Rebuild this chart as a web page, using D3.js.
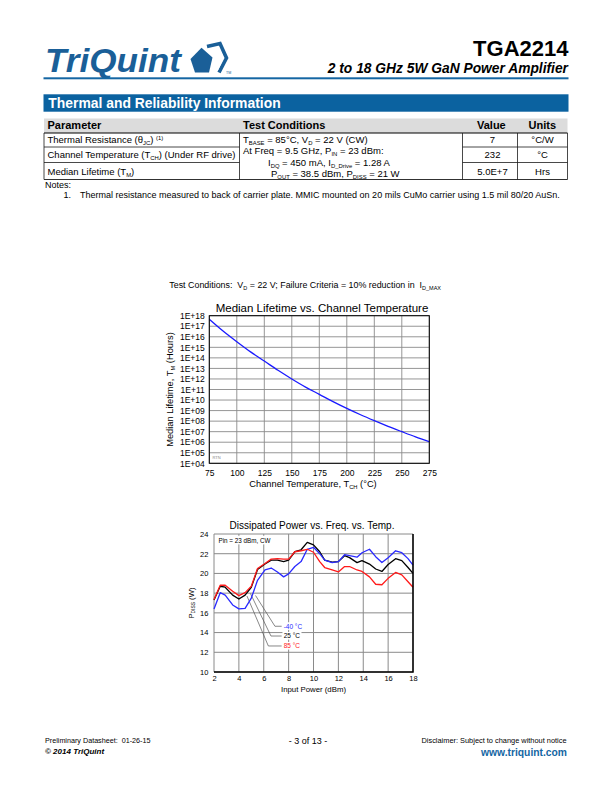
<!DOCTYPE html>
<html><head><meta charset="utf-8">
<script src="https://cdn.jsdelivr.net/npm/d3@7"></script>
<style>
body{margin:0;background:#fff}
svg{display:block}
text{font-family:"Liberation Sans",Arial,Helvetica,sans-serif;white-space:pre}
</style>
</head><body>
<svg id="page" width="612" height="792"></svg>
<script>
// ---------- Table data ----------
const tableHeaders = ["Parameter", "Test Conditions", "Value", "Units"];
const paramNames = [
  ["Thermal Resistance (θ", ["JC","sub"], ") ", ["(1)","sup"]],
  ["Channel Temperature (T", ["CH","sub"], ") (Under RF drive)"],
  ["Median Lifetime (T", ["M","sub"], ")"]
];
const testConditions = [
  ["T", ["BASE","sub"], " = 85°C, V", ["D","sub"], " = 22 V (CW)"],
  ["At Freq = 9.5 GHz, P", ["IN","sub"], " = 23 dBm:"],
  ["I", ["DQ","sub"], " = 450 mA, I", ["D_Drive","sub"], " = 1.28 A"],
  ["P", ["OUT","sub"], " = 38.5 dBm, P", ["DISS","sub"], " = 21 W"]
];
const paramValues = ["7", "232", "5.0E+7"];
const paramUnits = ["°C/W", "°C", "Hrs"];

// ---------- Chart 1: Median lifetime vs channel temperature ----------
const lifetimeTemps = [75, 87.5, 100, 112.5, 125, 137.5, 150, 162.5, 175, 187.5, 200, 212.5, 225, 237.5, 250, 262.5, 275];
const lifetimeHours = [4.6e17, 3.5e16, 3.4e15, 3.7e14, 5.0e13, 6.6e12, 1.0e12, 1.7e11, 3.5e10, 7.1e9, 1.6e9, 4.0e8, 1.1e8, 3.2e7, 1.0e7, 3.2e6, 1.1e6];
const lifetimeXTicks = [75, 100, 125, 150, 175, 200, 225, 250, 275];
const lifetimeYTicks = [1e4, 1e5, 1e6, 1e7, 1e8, 1e9, 1e10, 1e11, 1e12, 1e13, 1e14, 1e15, 1e16, 1e17, 1e18];
const lifetimeYTickLabels = ["1E+04","1E+05","1E+06","1E+07","1E+08","1E+09","1E+10","1E+11","1E+12","1E+13","1E+14","1E+15","1E+16","1E+17","1E+18"];

// ---------- Chart 2: Dissipated power vs input power vs temperature ----------
const inputPower = [2, 2.5, 2.9, 3.5, 4, 4.5, 5, 5.5, 6.1, 6.6, 7.1, 7.6, 8, 8.5, 9, 9.5, 10, 10.5, 10.9, 11.5, 12, 12.5, 12.9, 13.5, 13.9, 14.5, 15, 15.5, 16, 16.6, 17.1, 17.6, 18];
const pdissM40 = [16.4, 18.05, 17.8, 16.8, 16.4, 16.45, 17.5, 19.3, 20.35, 20.55, 20.15, 19.65, 19.95, 20.7, 21.2, 22.45, 22.65, 22.0, 21.35, 21.1, 21.2, 21.9, 21.8, 21.65, 22.1, 22.45, 21.7, 21.1, 21.6, 22.3, 22.1, 21.5, 20.85];
const pdiss25  = [17.3, 18.7, 18.6, 17.8, 17.4, 17.8, 18.6, 20.4, 20.95, 21.35, 21.35, 21.2, 21.35, 22.2, 22.4, 23.15, 22.9, 22.2, 21.35, 21.15, 21.2, 21.8, 21.6, 21.1, 21.3, 20.95, 20.45, 20.2, 20.9, 21.5, 21.3, 20.6, 20.0];
const pdiss85  = [17.35, 18.8, 18.8, 18.2, 17.75, 18.05, 18.7, 20.5, 21.0, 21.45, 21.5, 21.45, 21.45, 22.2, 22.3, 22.45, 22.15, 21.2, 20.6, 20.35, 20.15, 20.7, 20.7, 20.35, 20.2, 19.65, 18.9, 18.85, 19.5, 20.1, 19.85, 19.15, 18.6];
const pdissXTicks = [2, 4, 6, 8, 10, 12, 14, 16, 18];
const pdissYTicks = [10, 12, 14, 16, 18, 20, 22, 24];
const seriesNames = ["-40 °C", "25 °C", "85 °C"];
// leader-line annotation points in data units: curve point, elbow point
const leaderCurve = [[5.34, 17.76], [4.93, 17.96], [4.65, 17.71]];
const leaderElbow = [[6.90, 14.64], [6.58, 13.65], [6.37, 12.64]];
const leaderEndX = 7.44;
const labelX = 7.6;

// ---------- helpers ----------
const svg = d3.select("#page");
svg.append("rect").attr("width", 612).attr("height", 792).attr("fill", "#fff");
const FONT = '"Liberation Sans",Arial,Helvetica,sans-serif';

function rich(g, x, y, parts, size, opts = {}) {
  const t = g.append("text").attr("x", x).attr("y", y)
    .attr("font-size", size)
    .attr("fill", opts.fill || "#000")
    .attr("font-weight", opts.weight || "normal")
    .attr("font-style", opts.style || "normal")
    .attr("text-anchor", opts.anchor || "start");
  if (opts.transform) t.attr("transform", opts.transform);
  let cur = 0;
  parts.forEach(p => {
    let txt, kind = null;
    if (typeof p === "string") txt = p; else { txt = p[0]; kind = p[1]; }
    let target = 0, fs = size;
    if (kind === "sub") { target = size * 0.22; fs = size * 0.62; }
    if (kind === "sup") { target = -size * 0.35; fs = size * 0.62; }
    const ts = t.append("tspan").text(txt).attr("font-size", fs);
    if (target - cur !== 0) ts.attr("dy", target - cur);
    cur = target;
  });
  return t;
}
function whiteBack(g, textSel, padX, padY) {
  const b = textSel.node().getBBox();
  g.append("rect").attr("x", b.x - padX).attr("y", b.y - padY)
    .attr("width", b.width + 2 * padX).attr("height", b.height + 2 * padY).attr("fill", "#fff");
  textSel.raise();
}

// ---------- Header ----------
const blue = "#0b62a0";
const logoBlue = "#1a5f98";
svg.append("text").attr("x", 45).attr("y", 71.7).text("TriQuint")
  .attr("font-size", 33).attr("font-weight", "bold").attr("font-style", "italic")
  .attr("fill", logoBlue).attr("textLength", 136).attr("lengthAdjust", "spacingAndGlyphs");
svg.append("polygon").attr("points", "201.5,47.8 212.5,57.5 209,72.5 195,72.5 190.5,59").attr("fill", logoBlue);
svg.append("path").attr("d", "M207,46.5 L220,43.5 L226.5,58 L219,72.5")
  .attr("fill", "none").attr("stroke", logoBlue).attr("stroke-width", 3.6).attr("stroke-linejoin", "miter");
svg.append("path").attr("d", "M209.5,49.3 L218.6,47.2 L223.3,58 L217.3,70.8")
  .attr("fill", "none").attr("stroke", "#fff").attr("stroke-width", 0.9);
svg.append("text").attr("x", 226).attr("y", 74).text("TM").attr("font-size", 3.6).attr("fill", logoBlue);

svg.append("text").attr("x", 568.5).attr("y", 56).attr("text-anchor", "end")
  .attr("font-size", 22).attr("font-weight", "bold").text("TGA2214");
svg.append("text").attr("x", 568).attr("y", 72.7).attr("text-anchor", "end")
  .attr("font-size", 13.8).attr("font-weight", "bold").attr("font-style", "italic")
  .text("2 to 18 GHz 5W GaN Power Amplifier");
svg.append("rect").attr("x", 43.5).attr("y", 77.3).attr("width", 525).attr("height", 2).attr("fill", "#1466a3");

svg.append("rect").attr("x", 43.5).attr("y", 94.3).attr("width", 525).attr("height", 17.4).attr("fill", blue);
svg.append("text").attr("x", 48.3).attr("y", 107.6).attr("fill", "#fff")
  .attr("font-size", 13.9).attr("font-weight", "bold").text("Thermal and Reliability Information");

// ---------- Table ----------
const tbl = svg.append("g");
const colX = [44, 239.5, 462.5, 517.5, 567.5];
const rowY = [133, 147, 162.5, 179.5];
tbl.append("rect").attr("x", colX[0]).attr("y", 118.5).attr("width", colX[4] - colX[0]).attr("height", rowY[0] - 118.5).attr("fill", "#dcdcdc");
const lineC = "#1a1a1a";
tbl.append("line").attr("x1", colX[0]).attr("x2", colX[4]).attr("y1", rowY[0]).attr("y2", rowY[0]).attr("stroke", "#000").attr("stroke-width", 1.1);
tbl.append("line").attr("x1", colX[0]).attr("x2", colX[4]).attr("y1", rowY[3]).attr("y2", rowY[3]).attr("stroke", lineC).attr("stroke-width", 0.9);
[1, 2].forEach(r => {
  tbl.append("line").attr("x1", colX[0]).attr("x2", colX[1]).attr("y1", rowY[r]).attr("y2", rowY[r]).attr("stroke", lineC).attr("stroke-width", 0.8);
  tbl.append("line").attr("x1", colX[2]).attr("x2", colX[4]).attr("y1", rowY[r]).attr("y2", rowY[r]).attr("stroke", lineC).attr("stroke-width", 0.8);
});
colX.forEach(x => tbl.append("line").attr("x1", x).attr("x2", x).attr("y1", rowY[0]).attr("y2", rowY[3]).attr("stroke", lineC).attr("stroke-width", 0.8));

const headX = [47.5, 243, 477, 528.5];
tableHeaders.forEach((h, i) => tbl.append("text").attr("x", headX[i]).attr("y", 129.3)
  .attr("font-size", 11).attr("font-weight", "bold").text(h));
const rowBase = [143, 158.3, 174.5];
const TS = 9.5;
paramNames.forEach((p, i) => rich(tbl, 47.5, rowBase[i], p, TS));
paramValues.forEach((v, i) => tbl.append("text").attr("x", 492.5).attr("y", rowBase[i]).attr("text-anchor", "middle").attr("font-size", TS).text(v));
paramUnits.forEach((v, i) => tbl.append("text").attr("x", 542.5).attr("y", rowBase[i]).attr("text-anchor", "middle").attr("font-size", TS).text(v));
const tcX = [243, 243, 268, 271];
const tcY = [143, 154.3, 165.7, 177];
testConditions.forEach((p, i) => rich(tbl, tcX[i], tcY[i], p, TS));

svg.append("text").attr("x", 45).attr("y", 187.5).attr("font-size", 9).text("Notes:");
svg.append("text").attr("x", 63.5).attr("y", 198.3).attr("font-size", 9).text("1.");
svg.append("text").attr("x", 80).attr("y", 198.3).attr("font-size", 9)
  .text("Thermal resistance measured to back of carrier plate. MMIC mounted on 20 mils CuMo carrier using 1.5 mil 80/20 AuSn.");

// ---------- Chart 1 ----------
const c1 = svg.append("g");
rich(c1, 169.3, 287.7, ["Test Conditions:  V", ["D","sub"], " = 22 V; Failure Criteria = 10% reduction in  I", ["D_MAX","sub"]], 8.9);
const x1 = d3.scaleLinear().domain([75, 275]).range([209.3, 429.3]);
const y1 = d3.scaleLog().domain([1e4, 1e18]).range([463.3, 315.7]);
c1.append("text").attr("x", 322).attr("y", 311.5).attr("text-anchor", "middle").attr("font-size", 11.5)
  .text("Median Lifetime vs. Channel Temperature");
const g1 = c1.append("g").attr("stroke", "#8a8a8a").attr("stroke-width", 0.9);
lifetimeXTicks.forEach(t => g1.append("line").attr("x1", x1(t)).attr("x2", x1(t)).attr("y1", y1(1e4)).attr("y2", y1(1e18)));
lifetimeYTicks.forEach(t => g1.append("line").attr("y1", y1(t)).attr("y2", y1(t)).attr("x1", x1(75)).attr("x2", x1(275)));
c1.append("path").datum(lifetimeTemps.map((t, i) => [t, lifetimeHours[i]]))
  .attr("fill", "none").attr("stroke", "#1a1aff").attr("stroke-width", 1.3)
  .attr("d", d3.line().x(d => x1(d[0])).y(d => y1(d[1])).curve(d3.curveMonotoneX));
c1.append("rect").attr("x", x1(75)).attr("y", y1(1e18)).attr("width", x1(275) - x1(75)).attr("height", y1(1e4) - y1(1e18))
  .attr("fill", "none").attr("stroke", "#000").attr("stroke-width", 1);
c1.append("text").attr("x", 212.5).attr("y", 459).attr("font-size", 4).attr("fill", "#888").text("RTN");
const ax1y = c1.append("g").attr("transform", `translate(${x1(75)},0)`)
  .call(d3.axisLeft(y1).tickValues(lifetimeYTicks).tickFormat((d, i) => lifetimeYTickLabels[i]).tickSize(0).tickPadding(4.5));
const ax1x = c1.append("g").attr("transform", `translate(0,${y1(1e4)})`)
  .call(d3.axisBottom(x1).tickValues(lifetimeXTicks).tickSize(0).tickPadding(6.3));
[ax1y, ax1x].forEach(a => { a.select(".domain").remove(); a.selectAll("text").attr("font-size", 8.5).attr("font-family", FONT).attr("fill", "#000"); });
rich(c1, 313, 486.5, ["Channel Temperature, T", ["CH","sub"], " (°C)"], 9.3, { anchor: "middle" });
rich(c1, 0, 0, ["Median Lifetime, T", ["M","sub"], " (Hours)"], 9.3, { anchor: "middle", transform: "translate(173.3,389.5) rotate(-90)" });

// ---------- Chart 2 ----------
const c2 = svg.append("g");
const x2 = d3.scaleLinear().domain([2, 18]).range([214, 413]);
const y2 = d3.scaleLinear().domain([10, 24]).range([672, 534]);
c2.append("text").attr("x", 312).attr("y", 528.6).attr("text-anchor", "middle").attr("font-size", 10)
  .text("Dissipated Power vs. Freq. vs. Temp.");
const g2 = c2.append("g").attr("stroke", "#8a8a8a").attr("stroke-width", 1);
pdissXTicks.forEach(t => g2.append("line").attr("x1", x2(t)).attr("x2", x2(t)).attr("y1", y2(10)).attr("y2", y2(24)));
pdissYTicks.forEach(t => g2.append("line").attr("y1", y2(t)).attr("y2", y2(t)).attr("x1", x2(2)).attr("x2", x2(18)));
const pinNote = c2.append("text").attr("x", 218.5).attr("y", 542.6).attr("font-size", 6.3).text("Pin = 23 dBm, CW");
whiteBack(c2, pinNote, 1.2, 0.8);

const seriesColors = ["#2a2aff", "#000", "#ff1a1a"];
const allSeries = [pdissM40, pdiss25, pdiss85];
// leader lines and labels
allSeries.forEach((s, i) => {
  c2.append("polyline")
    .attr("points", [[leaderCurve[i][0], leaderCurve[i][1]], leaderElbow[i], [leaderEndX, leaderElbow[i][1]]]
      .map(p => `${x2(p[0])},${y2(p[1])}`).join(" "))
    .attr("fill", "none").attr("stroke", "#555").attr("stroke-width", 0.7);
  const lab = c2.append("text").attr("x", x2(labelX)).attr("y", y2(leaderElbow[i][1])).attr("dy", "0.35em")
    .attr("font-size", 6.5).attr("fill", seriesColors[i]).text(seriesNames[i]);
  whiteBack(c2, lab, 1.2, 0.3);
});
const line2 = d3.line().x((d, i) => x2(inputPower[i])).y(d => y2(d));
[1, 0, 2].forEach(i => {
  c2.append("path").datum(allSeries[i]).attr("fill", "none").attr("stroke", seriesColors[i])
    .attr("stroke-width", 1.3).attr("stroke-linejoin", "round").attr("d", line2);
});
c2.append("path").attr("d", `M${x2(18)},${y2(24)} L${x2(18)},${y2(10)} L${x2(2)},${y2(10)}`)
  .attr("fill", "none").attr("stroke", "#000").attr("stroke-width", 1.5);
const ax2y = c2.append("g").attr("transform", `translate(${x2(2)},0)`)
  .call(d3.axisLeft(y2).tickValues(pdissYTicks).tickSize(0).tickPadding(5.7));
const ax2x = c2.append("g").attr("transform", `translate(0,${y2(10)})`)
  .call(d3.axisBottom(x2).tickValues(pdissXTicks).tickSize(0).tickPadding(3.5));
[ax2y, ax2x].forEach(a => { a.select(".domain").remove(); a.selectAll("text").attr("font-size", 7.5).attr("font-family", FONT).attr("fill", "#000"); });
c2.append("text").attr("x", 313.5).attr("y", 691.7).attr("text-anchor", "middle").attr("font-size", 7.8).text("Input Power (dBm)");
rich(c2, 0, 0, ["P", ["DISS","sub"], " (W)"], 7.8, { anchor: "middle", transform: "translate(193.5,603) rotate(-90)" });

// ---------- Footer ----------
svg.append("text").attr("x", 45).attr("y", 743).attr("font-size", 7.2).text("Preliminary Datasheet:  01-26-15");
svg.append("text").attr("x", 45).attr("y", 754.3).attr("font-size", 8).attr("font-weight", "bold").attr("font-style", "italic").text("© 2014 TriQuint");
svg.append("text").attr("x", 308).attr("y", 744).attr("text-anchor", "middle").attr("font-size", 9).text("- 3 of 13 -");
svg.append("text").attr("x", 566.5).attr("y", 743).attr("text-anchor", "end").attr("font-size", 7.4).text("Disclaimer: Subject to change without notice");
svg.append("text").attr("x", 567).attr("y", 755.7).attr("text-anchor", "end").attr("font-size", 10.3).attr("font-weight", "bold").attr("fill", "#1466a3").text("www.triquint.com");
</script>
</body></html>
